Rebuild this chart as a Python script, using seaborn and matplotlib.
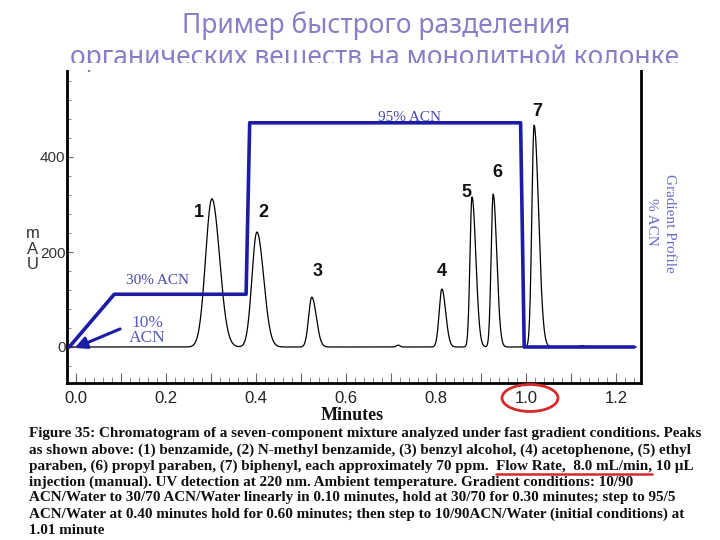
import numpy as np
import pandas as pd
import matplotlib
matplotlib.use("Agg")
import matplotlib.pyplot as plt
import seaborn as sns
from matplotlib.patches import Ellipse, Rectangle
from matplotlib.lines import Line2D
from matplotlib.ticker import MultipleLocator, FuncFormatter

# ---------------- data ----------------
peak_labels = ["1", "2", "3", "4", "5", "6", "7"]
peak_times = [0.302, 0.402, 0.524, 0.813, 0.880, 0.927, 1.018]      # min
peak_heights = [312, 242, 105, 122, 316, 322, 467]                  # mAU
peak_sigma_front = [0.014, 0.011, 0.007, 0.006, 0.0045, 0.0045, 0.005]
peak_sigma_tail = [0.017, 0.015, 0.010, 0.0085, 0.0085, 0.008, 0.010]
bump_times = [0.716, 1.125]
bump_heights = [4, 3]
bump_sigma = [0.004, 0.004]

grad_times = [-0.015, 0.085, 0.378, 0.386, 0.988, 0.996, 1.24]      # min
grad_acn = [10, 30, 30, 95, 95, 10, 10]                              # % ACN

x_tick_values = [0.0, 0.2, 0.4, 0.6, 0.8, 1.0, 1.2]
y_tick_values = [0, 200, 400]

title_lines = ["Пример быстрого разделения",
               "органических веществ на монолитной колонке"]
caption_lines = [
    "Figure 35: Chromatogram of a seven-component mixture analyzed under fast gradient conditions. Peaks",
    "as shown above: (1) benzamide, (2) N-methyl benzamide, (3) benzyl alcohol, (4) acetophenone, (5) ethyl",
    "paraben, (6) propyl paraben, (7) biphenyl, each approximately 70 ppm.  Flow Rate,  8.0 mL/min, 10 \u00b5L",
    "injection (manual). UV detection at 220 nm. Ambient temperature. Gradient conditions: 10/90",
    "ACN/Water to 30/70 ACN/Water linearly in 0.10 minutes, hold at 30/70 for 0.30 minutes; step to 95/5",
    "ACN/Water at 0.40 minutes hold for 0.60 minutes; then step to 10/90ACN/Water (initial conditions) at",
    "1.01 minute",
]
underline_prefix = "paraben, (6) propyl paraben, (7) biphenyl, each approximately 70 ppm.  "
underline_part = "Flow Rate,  8.0 mL/min,"

# ---------------- build trace from peak table ----------------
t = np.linspace(-0.02, 1.245, 4000)
signal = np.zeros_like(t)
for rt, h, sf, st in zip(peak_times, peak_heights, peak_sigma_front, peak_sigma_tail):
    s = np.where(t < rt, sf, st)
    signal += h * np.exp(-0.5 * ((t - rt) / s) ** 2)
for rt, h, s in zip(bump_times, bump_heights, bump_sigma):
    signal += h * np.exp(-0.5 * ((t - rt) / s) ** 2)
chrom = pd.DataFrame({"Minutes": t, "mAU": signal})
grad = pd.DataFrame({"Minutes": grad_times, "ACN": grad_acn})

# ---------------- figure ----------------
sns.set_style("white")
plt.rcParams["font.family"] = ["Liberation Sans", "DejaVu Sans"]

W, H = 720, 540
fig = plt.figure(figsize=(7.2, 5.4), dpi=100)
fig.patch.set_facecolor("white")

def fx(px):
    return px / W

def fy(py):
    return 1 - py / H

ax_left, ax_right, ax_top, ax_bot = 67, 641, 70, 383
ax = fig.add_axes([fx(ax_left), fy(ax_bot), (ax_right - ax_left) / W, (ax_bot - ax_top) / H])

# pixel->data mapping derived from the reference layout
x0_px, px_per_min = 76, 450.0
y0_px, px_per_mau = 347, 95.0 / 200.0
xlim = ((ax_left - x0_px) / px_per_min, (ax_right - x0_px) / px_per_min)
ylim = (-(ax_bot - y0_px) / px_per_mau, (y0_px - ax_top) / px_per_mau)

sns.lineplot(data=chrom, x="Minutes", y="mAU", ax=ax, color="black",
             linewidth=0.9, estimator=None, sort=False, zorder=3)
ax.set_xlim(*xlim)
ax.set_ylim(*ylim)

# gradient profile on twin axis: 10% at 0 mAU, 95% at 472 mAU
ax2 = ax.twinx()
k = (95 - 10) / 472.0
ax2.set_ylim(10 + ylim[0] * k, 10 + ylim[1] * k)
sns.lineplot(data=grad, x="Minutes", y="ACN", ax=ax2, color="#1c1ca6",
             linewidth=2.6, estimator=None, sort=False, zorder=4)
ax2.set_xlim(*xlim)
ax2.set_yticks([])
ax2.set_ylabel("")
for sp in ax2.spines.values():
    sp.set_visible(False)

# spines
ax.spines["top"].set_visible(False)
for s in ["left", "right", "bottom"]:
    ax.spines[s].set_visible(True)
    ax.spines[s].set_color("black")
    ax.spines[s].set_linewidth(2.0)

# ticks
ax.xaxis.set_major_locator(MultipleLocator(0.1))
ax.xaxis.set_minor_locator(MultipleLocator(0.02))
ax.xaxis.set_major_formatter(FuncFormatter(
    lambda v, p: (f"{v:.1f}" if any(abs(v - tv) < 1e-6 for tv in x_tick_values) else "")))
ax.tick_params(axis="x", which="major", direction="in", length=7, width=0.8,
               color="#666666", labelsize=12, labelcolor="#222222", pad=6, bottom=True)
ax.tick_params(axis="x", which="minor", direction="in", length=4, width=0.7,
               color="#888888", bottom=True)
ax.set_yticks(y_tick_values)
ax.yaxis.set_minor_locator(MultipleLocator(40))
ax.tick_params(axis="y", which="major", direction="in", length=4, width=0.8,
               color="#666666", labelsize=11, labelcolor="#333333", pad=1, left=True)
ax.tick_params(axis="y", which="minor", direction="in", length=3, width=0.7,
               color="#888888", left=True)
ax.set_xlabel("")
ax.set_ylabel("")

# axis titles
fig.text(fx(352), fy(416), "Minutes", ha="center", va="center", fontsize=13,
         fontweight="bold", family="Liberation Serif", color="#111111")
fig.text(fx(33), fy(249), "m\nA\nU", ha="center", va="center", fontsize=12,
         color="#333333", linespacing=1.05)

# peak labels
label_pos = [(0.273, 284), (0.416, 284), (0.538, 158), (0.813, 158),
             (0.867, 326), (0.936, 368), (1.024, 495)]
for lab, (lx, ly) in zip(peak_labels, label_pos):
    ax.text(lx, ly, lab, ha="center", va="center", fontsize=13,
            fontweight="bold", color="#111111", zorder=5)

# gradient annotations
acn_color = "#4848b0"
ax.text(0.182, 139, "30% ACN", ha="center", va="center", fontsize=11,
        family="Liberation Serif", color=acn_color, zorder=5)
ax.text(0.742, 484, "95% ACN", ha="center", va="center", fontsize=11,
        family="Liberation Serif", color=acn_color, zorder=5)
ax.text(0.158, 35, "10%\nACN", ha="center", va="center", fontsize=12.5,
        family="Liberation Serif", color="#5a5abb", linespacing=0.9, zorder=5)
ax.annotate("", xy=(-0.003, -2), xytext=(0.098, 38),
            arrowprops=dict(arrowstyle="-|>", color="#1c1ca6", lw=2.2,
                            mutation_scale=18, shrinkA=0, shrinkB=0), zorder=5)

fig.text(fx(670), fy(223), "Gradient Profile", rotation=270, ha="center", va="center",
         fontsize=11, family="Liberation Serif", color="#6a6ac8")
fig.text(fx(652), fy(222), "% ACN", rotation=270, ha="center", va="center",
         fontsize=11, family="Liberation Serif", color="#6a6ac8")

# title
title_color = "#8a7cc6"
fig.text(fx(376), fy(33), title_lines[0], ha="center", va="baseline", fontsize=19,
         family="Noto Sans", color=title_color)
fig.text(fx(375), fy(65), title_lines[1], ha="center", va="baseline", fontsize=19,
         family="Noto Sans", color=title_color)
fig.patches.append(Rectangle((0, fy(ax_top)), 1, (ax_top - 63) / H, transform=fig.transFigure,
                             facecolor="white", edgecolor="none", zorder=10))

# caption
cap_kw = dict(fontsize=10.9, fontweight="bold", family="Liberation Serif", color="#111111")
for i, line in enumerate(caption_lines):
    fig.text(fx(29), fy(434 + 16 * i), line, ha="left", va="center", **cap_kw)

# red underline placed under the "Flow Rate" phrase of caption line 3
renderer = fig.canvas.get_renderer()
tmp = fig.text(0, 0, underline_prefix + underline_part, **cap_kw)
w_full = tmp.get_window_extent(renderer).width
tmp.remove()
tmp1 = fig.text(0, 0, underline_prefix + "|", **cap_kw)
w_pre = tmp1.get_window_extent(renderer).width
tmp1.set_text("|")
w_bar = tmp1.get_window_extent(renderer).width
tmp1.remove()
x_start = 29 + (w_pre - w_bar)
x_end = 29 + w_full
fig.lines.append(Line2D([fx(x_start), fx(x_end)], [fy(474), fy(474)], transform=fig.transFigure,
                        color="#d42a2a", linewidth=1.8, zorder=11))

# red circle around 1.0
fig.patches.append(Ellipse((fx(530), fy(398)), 56 / W, 27 / H, transform=fig.transFigure,
                           facecolor="none", edgecolor="#d42a2a", linewidth=2, zorder=11))

fig.savefig("out.png", dpi=100, facecolor="white")
